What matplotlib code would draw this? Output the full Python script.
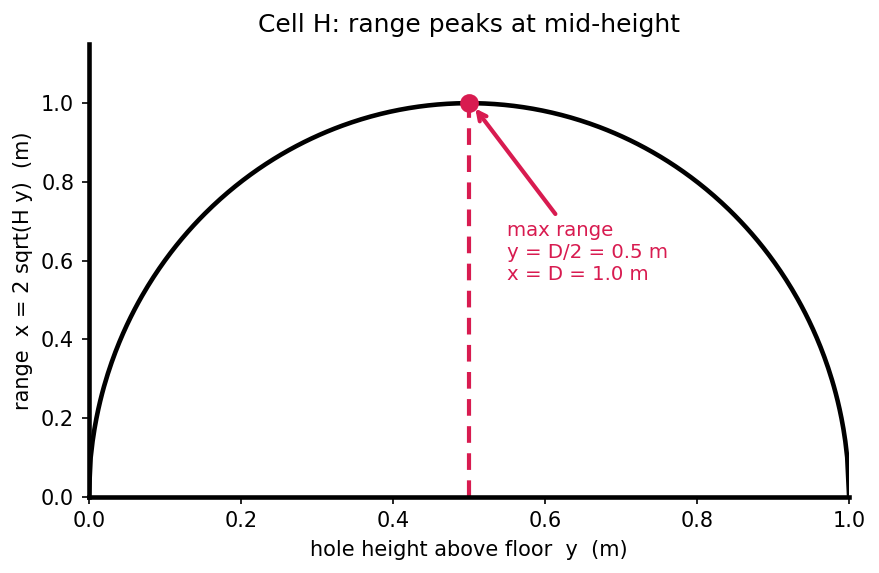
import numpy as np
import matplotlib.pyplot as plt

# tank: water depth D, hole at height y, range x = 2 sqrt(H y), H = D - y
D = 1.0
n_pts = 400
y_peak = D / 2
x_peak = D
red = '#d81b50'

y = np.linspace(0, D, n_pts)
x = 2 * np.sqrt((D - y) * y)

fig = plt.figure(figsize=(879 / 150, 573 / 150), dpi=150)
ax = fig.add_axes([0.101, 0.133, 0.865, 0.79])

ax.plot(y, x, color='black', lw=2.2)
ax.plot([y_peak, y_peak], [0, x_peak], color=red, lw=2, ls=(0, (4, 2.5)))
ax.plot([y_peak], [x_peak], 'o', color=red, ms=8)

ax.annotate('', xy=(y_peak + 0.005, x_peak - 0.005), xytext=(0.617, 0.71),
            arrowprops=dict(arrowstyle='->', color=red, lw=2))
ax.text(0.55, 0.54, 'max range\ny = D/2 = 0.5 m\nx = D = 1.0 m',
        color=red, fontsize=9.5, va='bottom', ha='left')

ax.set_xlim(0, 1.0)
ax.set_ylim(0, 1.15)
ax.spines['top'].set_visible(False)
ax.spines['right'].set_visible(False)
ax.spines['left'].set_linewidth(2.2)
ax.spines['bottom'].set_linewidth(2.2)
ax.set_xlabel('hole height above floor  y  (m)')
ax.set_ylabel('range  x = 2 sqrt(H y)  (m)')
ax.set_title('Cell H: range peaks at mid-height')

fig.savefig('out.png', dpi=150)
